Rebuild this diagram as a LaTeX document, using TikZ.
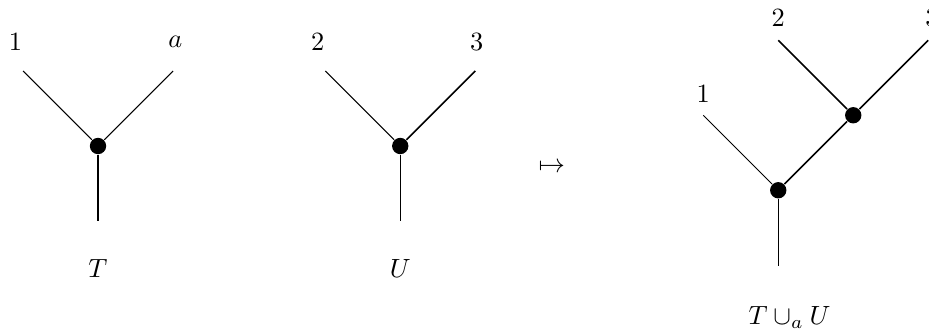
\documentclass[tikz,border=0pt]{standalone}
\usepackage{amsmath}
\usepackage{amssymb}
\usetikzlibrary{positioning}
\tikzset{
  vert/.style={circle, fill=black, inner sep=0pt, minimum size=6.2pt},
  edge/.style={line width=0.4pt},
  edgeb/.style={line width=0.65pt},
  stemb/.style={line width=0.9pt},
  leaflab/.style={inner sep=1pt},
  treelab/.style={inner sep=1pt}
}
\begin{document}
\begin{tikzpicture}
  \useasboundingbox (-1.307,-2.52) rectangle (11.08,1.947);
  % tree T
  \node[vert] (t) at (0,0) {};
  \coordinate (t1) at (-1,1);
  \coordinate (ta) at (1,1);
  \coordinate (tr) at (0,-1);
  \draw[edge] (t) -- (t1);
  \draw[edge] (t) -- (ta);
  \draw[stemb] (t) -- (tr);
  \node[leaflab] at (-1.1,1.39) {$1$};
  \node[leaflab] at (1.03,1.39) {$a$};
  \node[treelab] at (0,-1.63) {$T$};
  % tree U
  \node[vert] (u) at (4.03,0) {};
  \coordinate (u2) at (3.03,1);
  \coordinate (u3) at (5.03,1);
  \coordinate (ur) at (4.03,-1);
  \draw[edge] (u) -- (u2);
  \draw[edgeb] (u) -- (u3);
  \draw[edge] (u) -- (ur);
  \node[leaflab] at (2.93,1.39) {$2$};
  \node[leaflab] at (5.05,1.39) {$3$};
  \node[treelab] at (4.03,-1.63) {$U$};
  % map
  \node (map) at (6.05,-0.29) {$\mapsto$};
  % glued tree
  \node[vert] (g) at (9.07,-0.59) {};
  \node[vert] (h) at (10.07,0.41) {};
  \coordinate (g1) at (8.07,0.41);
  \coordinate (g2) at (9.07,1.41);
  \coordinate (g3) at (11.07,1.41);
  \coordinate (gr) at (9.07,-1.6);
  \draw[edge] (g) -- (g1);
  \draw[edgeb] (g) -- (h);
  \draw[edgeb] (h) -- (g2);
  \draw[edgeb] (h) -- (g3);
  \draw[edge] (g) -- (gr);
  \node[leaflab] at (8.07,0.7) {$1$};
  \node[leaflab] at (9.07,1.71) {$2$};
  \node[leaflab] at (11.12,1.71) {$3$};
  \node[treelab] at (9.22,-2.29) {$T \cup_a U$};
\end{tikzpicture}
\end{document}
